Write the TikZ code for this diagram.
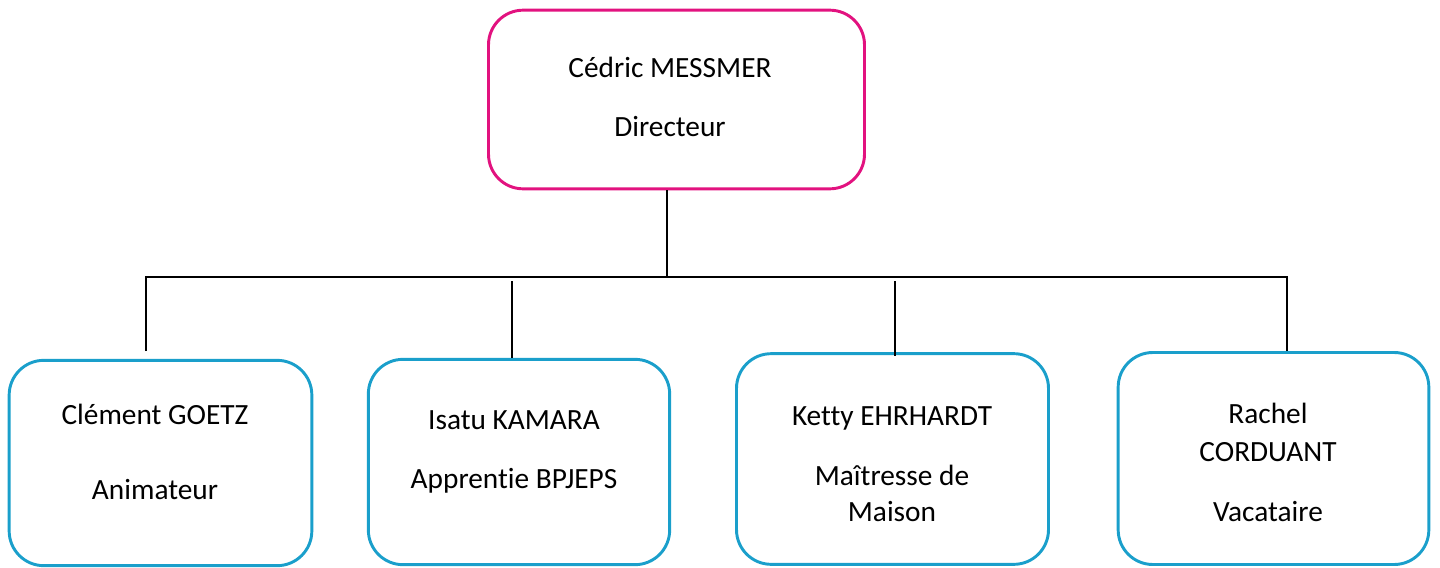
\documentclass[tikz,border=0pt]{standalone}
\usepackage{fontspec}
\setmainfont[Ligatures=NoCommon]{Carlito}
\usepackage{xcolor}
\definecolor{chefrose}{HTML}{E2127F}
\definecolor{equipebleu}{HTML}{1A9FCB}
\tikzstyle{box}=[draw, line width=2.2pt, rounded corners=26pt, inner sep=0pt]
\tikzstyle{chef}=[box, draw=chefrose]
\tikzstyle{agent}=[box, draw=equipebleu]
\tikzstyle{txt}=[anchor=base, inner sep=0pt, font=\fontsize{22}{26}\selectfont]
\tikzstyle{trait}=[line width=0.9pt, black]

\begin{document}
\begin{tikzpicture}[x=0.75pt,y=-0.75pt]
      \useasboundingbox (0,0) rectangle (1440,568);
      % cadres
      \node [chef, minimum width=282pt, minimum height=134pt] (dir) at (676.5,99.5) {};
      \node [agent, minimum width=227pt, minimum height=154pt] (goetz) at (160.5,463) {};
      \node [agent, minimum width=226pt, minimum height=154pt] (kamara) at (519,462) {};
      \node [agent, minimum width=234pt, minimum height=158pt] (ehrhardt) at (892.5,459) {};
      \node [agent, minimum width=233pt, minimum height=159pt] (corduant) at (1273.5,458.5) {};
      % textes
      \node [txt] (dirnom) at (670,77) {Cédric MESSMER};
      \node [txt] (dirrole) at (670,136) {Directeur};
      \node [txt] (goetznom) at (155,424) {Clément GOETZ};
      \node [txt] (goetzrole) at (155,499) {Animateur};
      \node [txt] (kamaranom) at (514,429) {Isatu KAMARA};
      \node [txt] (kamararole) at (514,488) {Apprentie BPJEPS};
      \node [txt] (ehrhardtnom) at (892,425) {Ketty EHRHARDT};
      \node [txt] (ehrhardtrole) at (892,485) {Maîtresse de};
      \node [txt] (ehrhardtrole2) at (892,521) {Maison};
      \node [txt] (corduantnom) at (1268,423) {Rachel};
      \node [txt] (corduantnom2) at (1268,461) {CORDUANT};
      \node [txt] (corduantrole) at (1268,521) {Vacataire};
      % liaisons
      \coordinate (hub) at (667,277);
      \coordinate (barg) at (146,277);
      \coordinate (bard) at (1287,277);
      \coordinate (piedg) at (146,351);
      \coordinate (hautk) at (512,281);
      \coordinate (haute) at (895,281);
      \draw [trait] (hub |- dir.south) -- (hub);
      \draw [trait] (piedg) -- (barg) -- (bard) -- (bard |- corduant.north);
      \draw [trait] (hautk) -- (hautk |- kamara.north);
      \draw [trait] (haute) -- ([yshift=-3pt]haute |- ehrhardt.north);
\end{tikzpicture}
\end{document}
